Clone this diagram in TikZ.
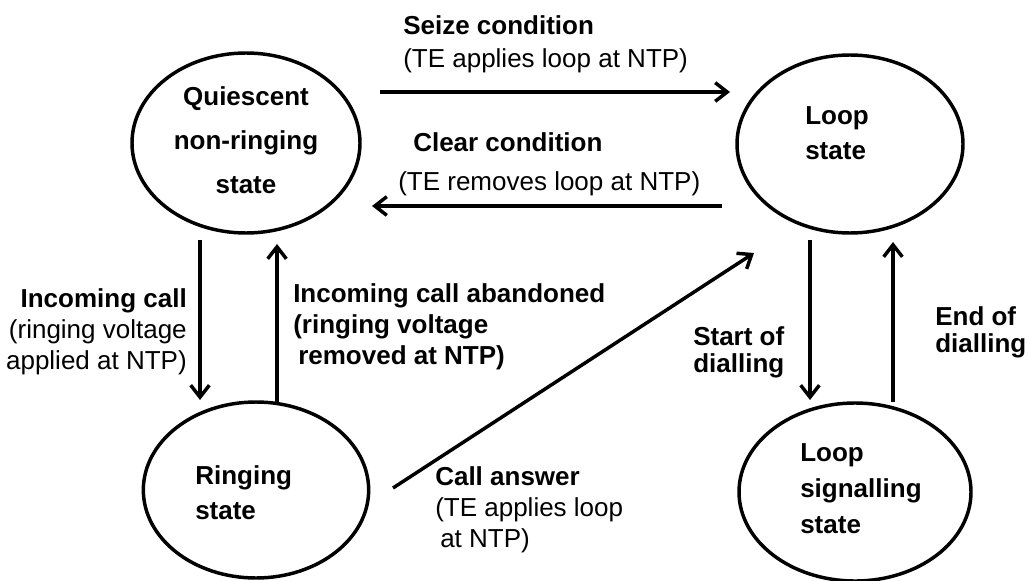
\documentclass[tikz,border=0pt]{standalone}
\usepackage{fontspec}
\setmainfont{Liberation Sans}
\usetikzlibrary{arrows.meta,shapes.geometric}
\begin{document}
\begin{tikzpicture}[x=0.75pt,y=-0.75pt,
  state/.style={draw,ellipse,line width=2.6pt,inner sep=0pt},
  flow/.style={line width=2.6pt,-{Straight Barb[length=9pt,width=14pt]}},
  txt/.style={inner sep=0pt,font=\fontsize{19.5}{23.25}\selectfont},
  stxt/.style={inner sep=0pt,font=\fontsize{19.5}{#1}\selectfont\bfseries},
]
\useasboundingbox (0,0) rectangle (1028,581);

% states
\node[state,minimum width=171pt,minimum height=135pt] (Q) at (246,143) {};
\node[state,minimum width=169.5pt,minimum height=133.5pt] (L) at (850,144) {};
\node[state,minimum width=169pt,minimum height=132pt] (R) at (256,490) {};
\node[state,minimum width=174pt,minimum height=133.5pt] (S) at (855,492) {};

\node[stxt=33pt,align=center] (Qt) at (246,140) {Quiescent\\non-ringing\\state};
\node[stxt=26.25pt,align=left,anchor=west] (Lt) at (805,133) {Loop\\state};
\node[stxt=26.25pt,align=left,anchor=west] (Rt) at (195,493) {Ringing\\state};
\node[stxt=27pt,align=left,anchor=west] (St) at (800,489) {Loop\\signalling\\state};

% connector end points
\coordinate (seizeA) at (380,92);  \coordinate (seizeB) at (730,92);
\coordinate (clearA) at (722,206); \coordinate (clearB) at (372,206);
\coordinate (incA) at (200,240);   \coordinate (incB) at (200,400);
\coordinate (abA) at (277,402);    \coordinate (abB) at (277,244);
\coordinate (ansA) at (393,488);   \coordinate (ansB) at (754,253);
\coordinate (stA) at (810,240);    \coordinate (stB) at (810,400);
\coordinate (enA) at (893,402);    \coordinate (enB) at (893,242);

\draw[flow] (seizeA) -- (seizeB);
\draw[flow] (clearA) -- (clearB);
\draw[flow] (incA) -- (incB);
\draw[flow] (abA) -- (abB);
\draw[flow] (ansA) -- (ansB);
\draw[flow] (stA) -- (stB);
\draw[flow] (enA) -- (enB);

% labels
\node[txt,align=left,anchor=west,font=\fontsize{19.5}{24.75}\selectfont] (seizeT) at (403,44)
  {\textbf{Seize condition}\\(TE applies loop at NTP)};
\node[txt,align=left,anchor=west,font=\fontsize{19.5}{29}\selectfont] (clearT) at (398,164)
  {\hspace*{11.25pt}\textbf{Clear condition}\\(TE removes loop at NTP)};
\node[txt,align=right,anchor=east] (incT) at (187,332)
  {\textbf{Incoming call}\\(ringing voltage\\applied at NTP)};
\node[txt,align=left,anchor=west,font=\fontsize{19.5}{23.25}\selectfont\bfseries] (abT) at (293,327)
  {Incoming call abandoned\\(ringing voltage\\\hspace*{3.75pt}removed at NTP)};
\node[txt,align=left,anchor=west,font=\fontsize{19.5}{20.25}\selectfont\bfseries] (stT) at (693,352)
  {Start of\\dialling};
\node[txt,align=left,anchor=west,font=\fontsize{19.5}{20.25}\selectfont\bfseries] (enT) at (935,332)
  {End of\\dialling};
\node[txt,align=left,anchor=west] (ansT) at (435,510)
  {\textbf{Call answer}\\(TE applies loop\\\hspace*{3.75pt}at NTP)};
\end{tikzpicture}
\end{document}
